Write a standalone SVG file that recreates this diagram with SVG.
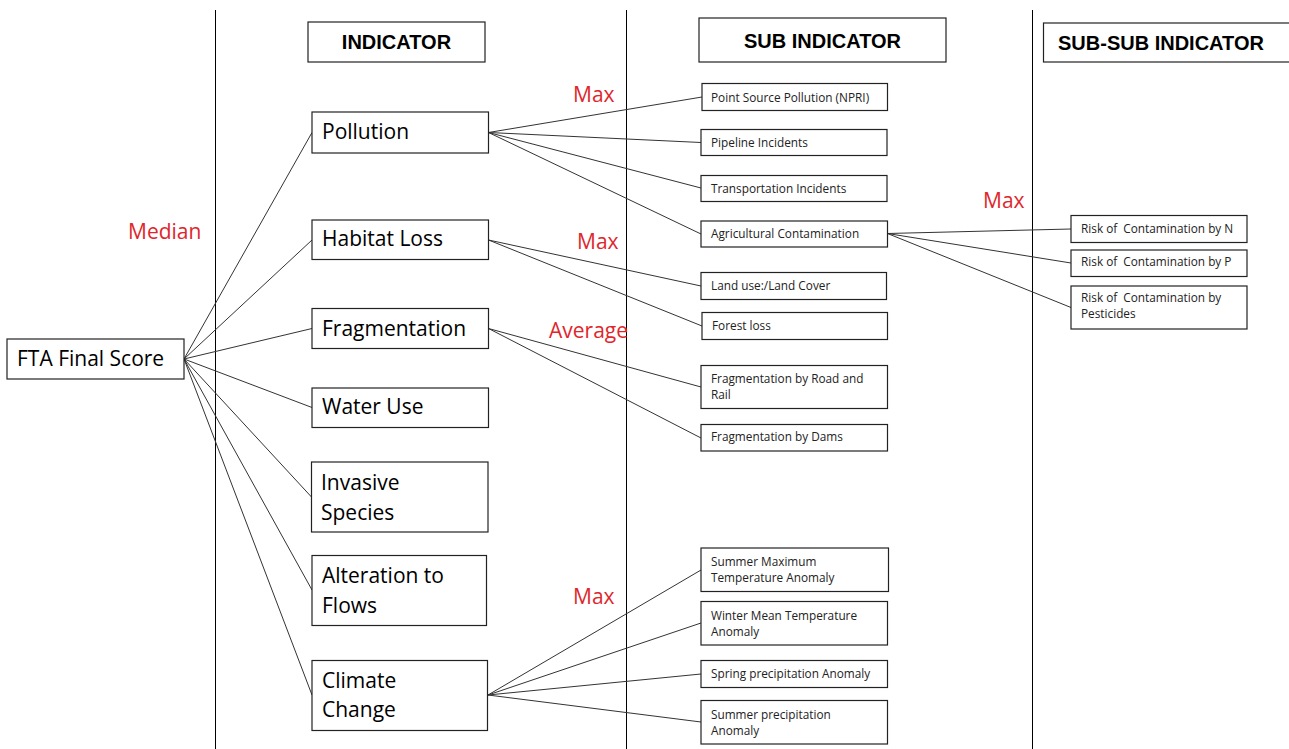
<svg xmlns="http://www.w3.org/2000/svg" width="1289" height="749" viewBox="0 0 1289 749">
<style>
.bg{fill:#ffffff}
.col{stroke:#000;stroke-width:1;fill:none}
.box{fill:#fff;stroke:#222;stroke-width:1.2}
.hdr{font-family:"Liberation Sans",Arial,sans-serif;font-weight:bold;font-size:20px;fill:#000}
.main{font-family:"Open Sans","Noto Sans",sans-serif;font-size:21px;fill:#000}
.small{font-family:"Open Sans","Noto Sans",sans-serif;font-size:11.8px;fill:#222;white-space:pre}
.red{font-family:"Open Sans","Noto Sans",sans-serif;font-size:21px;fill:#e0262b}
.con line{stroke:#333;stroke-width:1}
</style>
<rect class="bg" x="0" y="0" width="1289" height="749"/>
<g id="columns">
<line class="col" x1="215.5" y1="10" x2="215.5" y2="749"/>
<line class="col" x1="626.5" y1="10" x2="626.5" y2="749"/>
<line class="col" x1="1032.5" y1="10" x2="1032.5" y2="749"/>
</g>
<g id="connectors" class="con">
<line x1="184" y1="359" x2="312" y2="132.5"/>
<line x1="184" y1="359" x2="312" y2="240"/>
<line x1="184" y1="359" x2="312" y2="328.5"/>
<line x1="184" y1="359" x2="312" y2="407.5"/>
<line x1="184" y1="359" x2="311.5" y2="497"/>
<line x1="184" y1="359" x2="312" y2="590"/>
<line x1="184" y1="359" x2="312" y2="695"/>
<line x1="488.5" y1="132.5" x2="702" y2="97"/>
<line x1="488.5" y1="132.5" x2="701" y2="142.5"/>
<line x1="488.5" y1="132.5" x2="701" y2="188"/>
<line x1="488.5" y1="132.5" x2="701" y2="234"/>
<line x1="488.5" y1="240" x2="701" y2="286"/>
<line x1="488.5" y1="240" x2="702" y2="326"/>
<line x1="488.5" y1="328.5" x2="701" y2="387"/>
<line x1="488.5" y1="328.5" x2="701" y2="438"/>
<line x1="887.5" y1="233.5" x2="1071" y2="229"/>
<line x1="887.5" y1="233.5" x2="1071" y2="263"/>
<line x1="887.5" y1="233.5" x2="1071" y2="307.5"/>
<line x1="488" y1="695" x2="701" y2="570"/>
<line x1="488" y1="695" x2="701" y2="623"/>
<line x1="488" y1="695" x2="701" y2="674"/>
<line x1="488" y1="695" x2="701" y2="722"/>
</g>
<g id="labels">
<text class="red" x="128" y="239">Median</text>
<text class="red" x="573" y="102">Max</text>
<text class="red" x="577" y="249">Max</text>
<text class="red" x="549" y="338">Average</text>
<text class="red" x="573" y="604">Max</text>
<text class="red" x="983" y="208">Max</text>
</g>
<g id="hdr-indicator">
<rect class="box" x="308" y="22" width="177" height="40"/>
<text class="hdr" x="396.5" y="49" text-anchor="middle">INDICATOR</text>
</g>
<g id="hdr-sub">
<rect class="box" x="699" y="18" width="247" height="44"/>
<text class="hdr" x="822.5" y="48" text-anchor="middle">SUB INDICATOR</text>
</g>
<g id="hdr-subsub">
<rect class="box" x="1043.5" y="23" width="260" height="39"/>
<text class="hdr" x="1058" y="50">SUB-SUB INDICATOR</text>
</g>
<g id="fta">
<rect class="box" x="7" y="339" width="177" height="40"/>
<text class="main" x="17" y="366">FTA Final Score</text>
</g>
<g id="pollution">
<rect class="box" x="312" y="112" width="176.5" height="41"/>
<text class="main" x="322" y="139">Pollution</text>
</g>
<g id="habitat">
<rect class="box" x="312" y="220" width="176.5" height="39.5"/>
<text class="main" x="322" y="246">Habitat Loss</text>
</g>
<g id="fragmentation">
<rect class="box" x="312" y="308.5" width="176.5" height="40"/>
<text class="main" x="322" y="336">Fragmentation</text>
</g>
<g id="water">
<rect class="box" x="312" y="388" width="176.5" height="39.5"/>
<text class="main" x="322" y="414">Water Use</text>
</g>
<g id="invasive">
<rect class="box" x="311.5" y="462" width="176.5" height="70"/>
<text class="main" x="321" y="490">Invasive</text>
<text class="main" x="321" y="519.5">Species</text>
</g>
<g id="alteration">
<rect class="box" x="312" y="555.5" width="174.5" height="70"/>
<text class="main" x="322" y="583">Alteration to</text>
<text class="main" x="322" y="612.5">Flows</text>
</g>
<g id="climate">
<rect class="box" x="312" y="660.5" width="175.5" height="70"/>
<text class="main" x="322" y="687.5">Climate</text>
<text class="main" x="322" y="717">Change</text>
</g>
<g id="psp">
<rect class="box" x="702" y="83.5" width="185.5" height="27"/>
<text class="small" x="711" y="101.5">Point Source Pollution (NPRI)</text>
</g>
<g id="pipeline">
<rect class="box" x="701" y="129.5" width="186" height="26"/>
<text class="small" x="711" y="147">Pipeline Incidents</text>
</g>
<g id="transport">
<rect class="box" x="701" y="175.5" width="186" height="26"/>
<text class="small" x="711" y="193">Transportation Incidents</text>
</g>
<g id="agri">
<rect class="box" x="701" y="221" width="186.5" height="26"/>
<text class="small" x="711" y="238">Agricultural Contamination</text>
</g>
<g id="landuse">
<rect class="box" x="701" y="272.5" width="185.5" height="27"/>
<text class="small" x="711" y="290">Land use:/Land Cover</text>
</g>
<g id="forest">
<rect class="box" x="702" y="312.5" width="185.5" height="27"/>
<text class="small" x="712" y="330">Forest loss</text>
</g>
<g id="roadrail">
<rect class="box" x="701" y="365.5" width="186.5" height="43"/>
<text class="small" x="711" y="383">Fragmentation by Road and</text>
<text class="small" x="711" y="399">Rail</text>
</g>
<g id="dams">
<rect class="box" x="701" y="424.5" width="186.5" height="26.5"/>
<text class="small" x="711" y="441">Fragmentation by Dams</text>
</g>
<g id="riskN">
<rect class="box" x="1071" y="215.5" width="176" height="27"/>
<text class="small" x="1081" y="233">Risk of  Contamination by N</text>
</g>
<g id="riskP">
<rect class="box" x="1071" y="250" width="176" height="26.5"/>
<text class="small" x="1081" y="266">Risk of  Contamination by P</text>
</g>
<g id="riskPest">
<rect class="box" x="1071" y="286" width="176" height="43"/>
<text class="small" x="1081" y="302">Risk of  Contamination by</text>
<text class="small" x="1081" y="318">Pesticides</text>
</g>
<g id="summax">
<rect class="box" x="701" y="548" width="187.5" height="43.5"/>
<text class="small" x="711" y="566">Summer Maximum</text>
<text class="small" x="711" y="582">Temperature Anomaly</text>
</g>
<g id="winter">
<rect class="box" x="701" y="601.5" width="186.5" height="43.5"/>
<text class="small" x="711" y="619.5">Winter Mean Temperature</text>
<text class="small" x="711" y="635.5">Anomaly</text>
</g>
<g id="spring">
<rect class="box" x="701" y="660.5" width="186.5" height="27"/>
<text class="small" x="711" y="678">Spring precipitation Anomaly</text>
</g>
<g id="sumprec">
<rect class="box" x="701" y="700.5" width="186.5" height="43.5"/>
<text class="small" x="711" y="719">Summer precipitation</text>
<text class="small" x="711" y="735">Anomaly</text>
</g>
</svg>
